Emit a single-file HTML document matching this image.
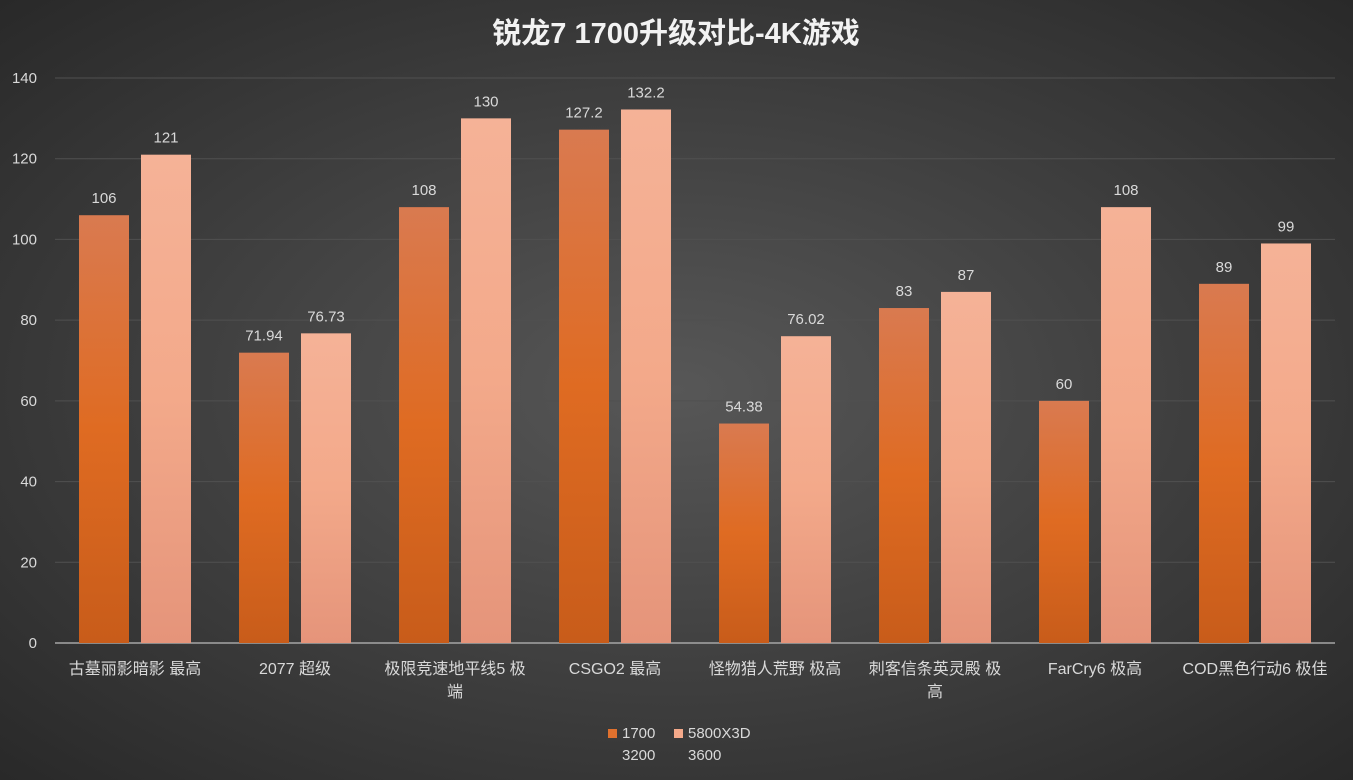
<!DOCTYPE html>
<html><head><meta charset="utf-8"><style>
html,body{margin:0;padding:0;width:1353px;height:780px;overflow:hidden;background:#3a3a3a}
svg text{font-family:"Liberation Sans","Noto Sans CJK SC",sans-serif}
</style></head><body>
<svg id="c" width="1353" height="780">
<defs>
<radialGradient id="bg" cx="50%" cy="50%" r="75%">
<stop offset="0" stop-color="#575757"/><stop offset="1" stop-color="#262626"/></radialGradient>
<linearGradient id="g1" x1="0" y1="0" x2="0" y2="1">
<stop offset="0" stop-color="#d97a50"/><stop offset="0.5" stop-color="#df6b22"/><stop offset="1" stop-color="#c85c1a"/></linearGradient>
<linearGradient id="g2" x1="0" y1="0" x2="0" y2="1">
<stop offset="0" stop-color="#f5b297"/><stop offset="0.5" stop-color="#f3a98a"/><stop offset="1" stop-color="#e5947a"/></linearGradient>
</defs>
<rect width="1353" height="780" fill="url(#bg)"/>
<text x="676" y="43" text-anchor="middle" font-size="29" font-weight="bold" fill="#f2f2f2">锐龙7 1700升级对比-4K游戏</text>
<g id="grid"></g><g id="bars"></g><g id="xl"></g>
<g>
<rect x="608" y="729" width="9" height="9" fill="#e0712e"/>
<text x="622" y="738" font-size="15" fill="#d9d9d9">1700</text>
<text x="622" y="760" font-size="15" fill="#d9d9d9">3200</text>
<rect x="674" y="729" width="9" height="9" fill="#f4a98a"/>
<text x="688" y="738" font-size="15" fill="#d9d9d9">5800X3D</text>
<text x="688" y="760" font-size="15" fill="#d9d9d9">3600</text>
</g>
</svg>
<script>
const categories=[["古墓丽影暗影 最高"],["2077 超级"],["极限竞速地平线5 极","端"],["CSGO2 最高"],["怪物猎人荒野 极高"],["刺客信条英灵殿 极","高"],["FarCry6 极高"],["COD黑色行动6 极佳"]];
const s1700=[106,71.94,108,127.2,54.38,83,60,89];
const s5800=[121,76.73,130,132.2,76.02,87,108,99];
const yTicks=[0,20,40,60,80,100,120,140];
const NS="http://www.w3.org/2000/svg";
const x0=55,x1=1335,yb=643,yt=78,ymax=140;
const Y=v=>yb-(v/ymax)*(yb-yt);
const cw=(x1-x0)/categories.length;
const X=i=>x0+cw*i+cw/2;
function mk(t,a,p){const e=document.createElementNS(NS,t);for(const k in a)e.setAttribute(k,a[k]);p.appendChild(e);return e;}
const grid=document.getElementById('grid'),bars=document.getElementById('bars'),xl=document.getElementById('xl');
yTicks.forEach(v=>{
 const l=mk('line',{x1:x0,x2:x1,y1:Y(v),y2:Y(v),stroke:v===0?'#a6a6a6':'#505050','stroke-width':v===0?1.5:1},grid);
 
 
 const t=mk('text',{x:37,y:Y(v)+5,'text-anchor':'end','font-size':15,fill:'#d9d9d9'},grid);
 t.textContent=v;
 
 
});
const bw=50,gap=12;
[[s1700,'url(#g1)',-1],[s5800,'url(#g2)',1]].forEach(([s,f,side],si)=>{
 s.forEach((v,i)=>{
  const cx=X(i)+side*(gap/2+bw/2);
  const r=mk('rect',{x:cx-bw/2,y:Y(v),width:bw,height:yb-Y(v),fill:f},bars);
  
  
  const t=mk('text',{x:cx,y:Y(v)-12,'text-anchor':'middle','font-size':15,fill:'#d9d9d9'},bars);
  t.textContent=v;
  
  
 });
});
categories.forEach((c,i)=>{
 c.forEach((s,j)=>{
  const t=mk('text',{x:X(i),y:674+j*23,'text-anchor':'middle','font-size':16,fill:'#d9d9d9'},xl);
  t.textContent=s;
  
  
 });
});
</script>
</body></html>
